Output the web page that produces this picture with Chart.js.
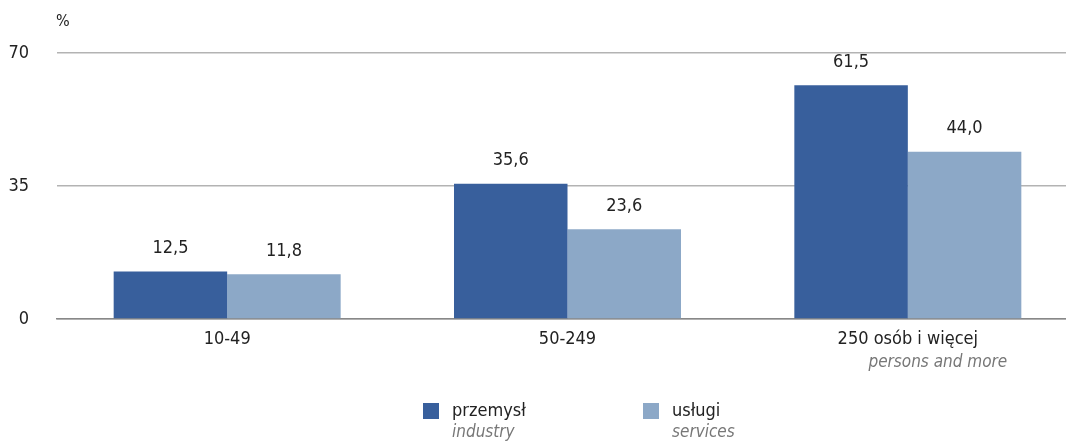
<!DOCTYPE html>
<html>
<head>
<meta charset="utf-8">
<script src="https://cdn.jsdelivr.net/npm/chart.js@4"></script>
<style>
  html, body { margin: 0; padding: 0; background: #fff; overflow: hidden; }
  #wrap { width: 1078px; height: 444px; }
</style>
</head>
<body>
<div id="wrap"><canvas id="chart" width="1078" height="444"></canvas></div>
<script>
// dane
const categories = ['10-49', '50-249', '250 osób i więcej'];
const categoriesEn = ['', '', 'persons and more'];
const industry = [12.5, 35.6, 61.5];
const services = [11.8, 23.6, 44.0];
const yTicks = [0, 35, 70];
const seriesPl = ['przemysł', 'usługi'];
const seriesEn = ['industry', 'services'];

const FONT = '"DejaVu Sans Condensed", "Liberation Sans", sans-serif';
const DARK = '#385f9c';
const LIGHT = '#8ca8c7';

// etykiety wartości nad słupkami + legenda + jednostka
const extras = {
    id: 'extras',
    afterDatasetsDraw(chart) {
        const ctx = chart.ctx;
        ctx.save();
        ctx.fillStyle = '#222';
        ctx.font = '18px ' + FONT;
        ctx.textAlign = 'center';
        ctx.textBaseline = 'bottom';
        chart.data.datasets.forEach((ds, i) => {
            chart.getDatasetMeta(i).data.forEach((bar, j) => {
                const txt = ds.data[j].toFixed(1).replace('.', ',');
                ctx.fillText(txt, bar.x, bar.y - 14);
            });
        });

        // jednostka
        ctx.textAlign = 'left';
        ctx.textBaseline = 'middle';
        ctx.font = '16px ' + FONT;
        ctx.fillText('%', 56, 22);

        // legenda
        const colors = [DARK, LIGHT];
        const xs = [423, 643];
        xs.forEach((x, i) => {
            ctx.fillStyle = colors[i];
            ctx.fillRect(x, 403, 16, 16);
            ctx.fillStyle = '#222';
            ctx.font = '18px ' + FONT;
            ctx.fillText(seriesPl[i], x + 29, 411);
            ctx.fillStyle = '#777';
            ctx.font = 'italic 17px ' + FONT;
            ctx.fillText(seriesEn[i], x + 29, 433);
        });
        ctx.restore();
    }
};

const ctx = document.getElementById('chart').getContext('2d');
new Chart(ctx, {
    type: 'bar',
    data: {
        labels: categories,
        datasets: [
            { label: seriesPl[0], data: industry, backgroundColor: DARK },
            { label: seriesPl[1], data: services, backgroundColor: LIGHT }
        ]
    },
    options: {
        responsive: false,
        animation: false,
        layout: { padding: { top: 53, left: 0, right: 0, bottom: 0 } },
        datasets: { bar: { barPercentage: 1, categoryPercentage: 0.667 } },
        plugins: { legend: { display: false }, tooltip: { enabled: false } },
        scales: {
            x: {
                grid: { display: false },
                border: { color: '#888', width: 1.5 },
                ticks: {
                    color: '#222',
                    padding: 2,
                    font: { family: FONT, size: 18 },
                    callback: function(v, i) { return categories[i]; }
                },
                afterFit: function(scale) { scale.height = 125; }
            },
            y: {
                min: 0,
                max: 70,
                afterBuildTicks: function(scale) {
                    scale.ticks = yTicks.map(v => ({ value: v }));
                },
                border: { display: false },
                grid: {
                    color: '#b3b3b3',
                    lineWidth: 1.5,
                    drawTicks: false
                },
                ticks: {
                    color: '#222',
                    padding: 28,
                    font: { family: FONT, size: 18 }
                },
                afterFit: function(scale) { scale.width = 57; }
            }
        }
    },
    plugins: [extras, {
        // drugi wiersz etykiety kategorii (kursywa)
        id: 'subLabels',
        afterDraw(chart) {
            const c = chart.ctx;
            const xs = chart.scales.x;
            c.save();
            c.fillStyle = '#777';
            c.font = 'italic 17px ' + FONT;
            c.textAlign = 'center';
            c.textBaseline = 'middle';
            categoriesEn.forEach((t, i) => {
                if (t) c.fillText(t, xs.getPixelForValue(i) + 30, 363);
            });
            c.restore();
        }
    }]
});
</script>
</body>
</html>
